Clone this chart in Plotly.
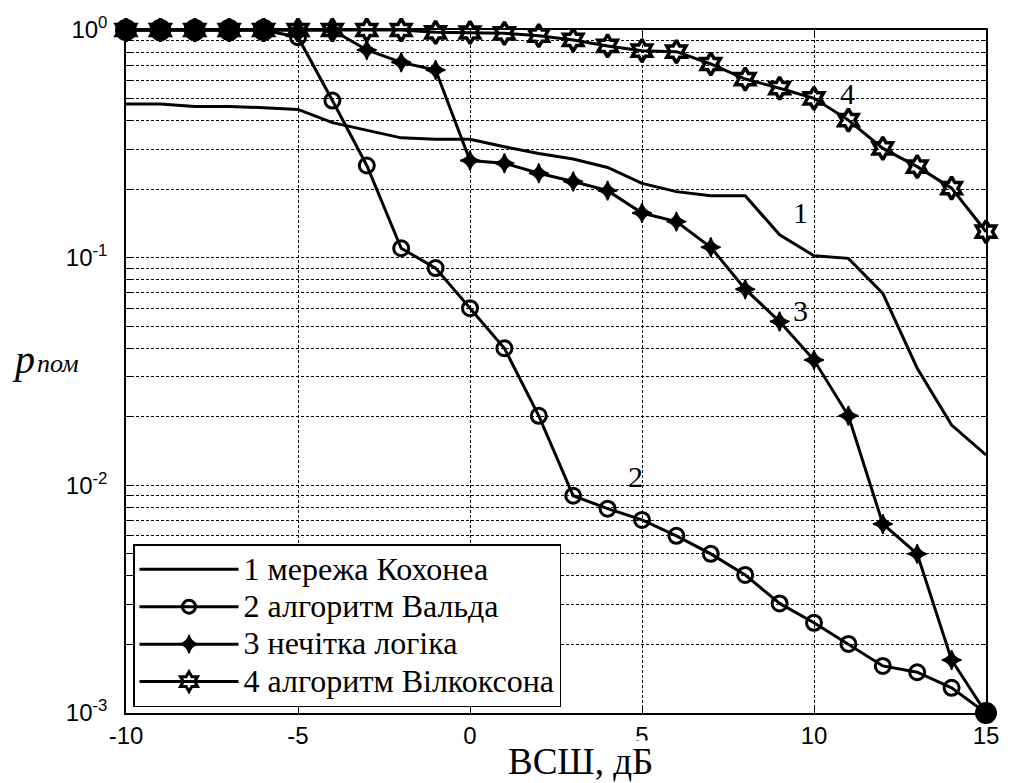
import plotly.graph_objects as go

snr = list(range(-10, 16))

kohonen = [0.473, 0.473, 0.461, 0.461, 0.456, 0.448, 0.392, 0.364, 0.336, 0.331,
           0.331, 0.307, 0.287, 0.271, 0.249, 0.212, 0.195, 0.187, 0.187, 0.126,
           0.102, 0.0993, 0.0697, 0.0327, 0.0184, 0.0136]
wald = [1.0, 1.0, 1.0, 1.0, 1.0, 0.93, 0.49, 0.254, 0.11, 0.09,
        0.060, 0.040, 0.0202, 0.0090, 0.0079, 0.00705, 0.0060, 0.0050, 0.00404, 0.00303,
        0.00249, 0.00201, 0.00161, 0.00151, 0.00129, 0.001]
fuzzy = [1.0, 1.0, 1.0, 1.0, 1.0, 1.0, 1.0, 0.817, 0.721, 0.667,
         0.267, 0.260, 0.235, 0.216, 0.197, 0.157, 0.144, 0.111, 0.0727, 0.0524,
         0.0355, 0.0202, 0.00677, 0.0050, 0.00171, 0.001]
wilcoxon = [1.0, 1.0, 1.0, 1.0, 1.0, 1.0, 1.0, 1.0, 1.0, 0.977,
            0.975, 0.967, 0.944, 0.904, 0.851, 0.811, 0.803, 0.709, 0.609, 0.555,
            0.501, 0.402, 0.302, 0.251, 0.202, 0.130]

names = ["1 мережа Кохонеа", "2 алгоритм Вальда", "3 нечітка логіка", "4 алгоритм Вілкоксона"]
curve_labels = ["1", "2", "3", "4"]
label_x = [9.62, 4.8, 9.6, 10.96]
label_logy = [-0.80, -1.96, -1.23, -0.28]

x_ticks = [-10, -5, 0, 5, 10, 15]
decades = [-3, -2, -1, 0]

SERIF = "Liberation Serif, Times New Roman, serif"
SANS = "Liberation Sans, Arial, sans-serif"
LW = 3

fig = go.Figure()

# curve 1
fig.add_trace(go.Scatter(x=snr, y=kohonen, mode="lines", line=dict(color="black", width=LW),
                         name=names[0], showlegend=False, cliponaxis=False))
# curve 3
fig.add_trace(go.Scatter(x=snr, y=fuzzy, mode="lines+markers", line=dict(color="black", width=LW),
                         marker=dict(symbol="star-diamond", size=14, color="black", opacity=1,
                                     line=dict(color="black", width=1.5)),
                         name=names[2], showlegend=False, cliponaxis=False))
# curve 4
fig.add_trace(go.Scatter(x=snr, y=wilcoxon, mode="lines+markers", line=dict(color="black", width=LW),
                         marker=dict(symbol="hexagram-open", size=17, color="black", opacity=1,
                                     line=dict(color="black", width=3.5)),
                         name=names[3], showlegend=False, cliponaxis=False))
# curve 2 (drawn last: where markers of several curves coincide they look filled)
coincide = [v >= 1.0 or v <= 0.001 for v in wald]
fig.add_trace(go.Scatter(x=snr, y=wald, mode="lines+markers", line=dict(color="black", width=LW),
                         marker=dict(symbol=["circle" if c else "circle-open" for c in coincide],
                                     size=[19 if c else 15 for c in coincide], color="black",
                                     opacity=1, line=dict(color="black", width=3)),
                         name=names[1], showlegend=False, cliponaxis=False))

# legend entries
leg_styles = [
    dict(mode="lines"),
    dict(mode="lines+markers", marker=dict(symbol="circle-open", size=13, color="black", line=dict(width=3, color="black"))),
    dict(mode="lines+markers", marker=dict(symbol="star-diamond", size=13, color="black", line=dict(width=1.5, color="black"))),
    dict(mode="lines+markers", marker=dict(symbol="hexagram-open", size=15, color="black", line=dict(width=3, color="black"))),
]
for nm, st in zip(names, leg_styles):
    fig.add_trace(go.Scatter(x=[None], y=[None], name=f'<span style="font-size:32px">{nm}</span>',
                             line=dict(color="black", width=LW), **st))

# y ticks: every 1..9 x decade, labels only at decades
yvals, ytext = [], []
for d in decades:
    for m in range(1, 10):
        if d == 0 and m > 1:
            break
        yvals.append(m * 10.0 ** d)
        ytext.append(f"10<sup>{d}</sup>" if m == 1 else " ")

fig.update_xaxes(range=[-10, 15], tickvals=x_ticks, ticktext=[str(v) for v in x_ticks],
                 ticks="inside", ticklen=6, tickcolor="black", tickwidth=1,
                 showline=True, linecolor="black", linewidth=1.5, mirror="allticks",
                 showgrid=True, gridcolor="black", gridwidth=1, griddash="3px,2px",
                 zeroline=False, tickfont=dict(family=SANS, size=24, color="black"),
                 ticklabelstandoff=0)
fig.update_yaxes(type="log", range=[-3, 0], tickvals=yvals, ticktext=ytext,
                 ticks="inside", ticklen=5, tickcolor="black", tickwidth=1,
                 showline=True, linecolor="black", linewidth=1.5, mirror="allticks",
                 showgrid=True, gridcolor="black", gridwidth=1, griddash="3px,2px",
                 zeroline=False, tickfont=dict(family=SANS, size=24, color="black"),
                 ticklabelstandoff=12)

annotations = []
for t, xx, ly in zip(curve_labels, label_x, label_logy):
    annotations.append(dict(x=xx, y=ly, xref="x", yref="y", text=t, showarrow=False,
                            font=dict(family=SERIF, size=30, color="black"),
                            xanchor="center", yanchor="middle"))
# axis titles
annotations.append(dict(x=(580 - 126) / 860, y=0, yshift=-(783 - 713), xref="paper", yref="paper",
                        text="ВСШ, дБ", showarrow=False, bgcolor="white", borderpad=0,
                        font=dict(family=SERIF, size=37, color="black"),
                        xanchor="center", yanchor="bottom"))
annotations.append(dict(x=(23 - 126) / 860, y=(713 - 360) / 683, xref="paper", yref="paper",
                        text="<i>p</i>", showarrow=False,
                        font=dict(family=SERIF, size=40, color="black"),
                        xanchor="center", yanchor="middle"))
annotations.append(dict(x=(58 - 126) / 860, y=(713 - 364) / 683, xref="paper", yref="paper",
                        text="<i>пом</i>", showarrow=False,
                        font=dict(family=SERIF, size=26, color="black"),
                        xanchor="center", yanchor="middle"))

fig.update_layout(
    width=1010, height=783,
    margin=dict(l=126, r=24, t=30, b=70),
    paper_bgcolor="white", plot_bgcolor="white",
    showlegend=True,
    legend=dict(x=(133 - 126) / 860, y=(713 - 544) / 683, xanchor="left", yanchor="top",
                bgcolor="white", bordercolor="black", borderwidth=1.5,
                font=dict(family=SERIF, size=26.5, color="black"),
                itemwidth=99, tracegroupgap=0),
    annotations=annotations,
)

fig.write_html("out.html")
